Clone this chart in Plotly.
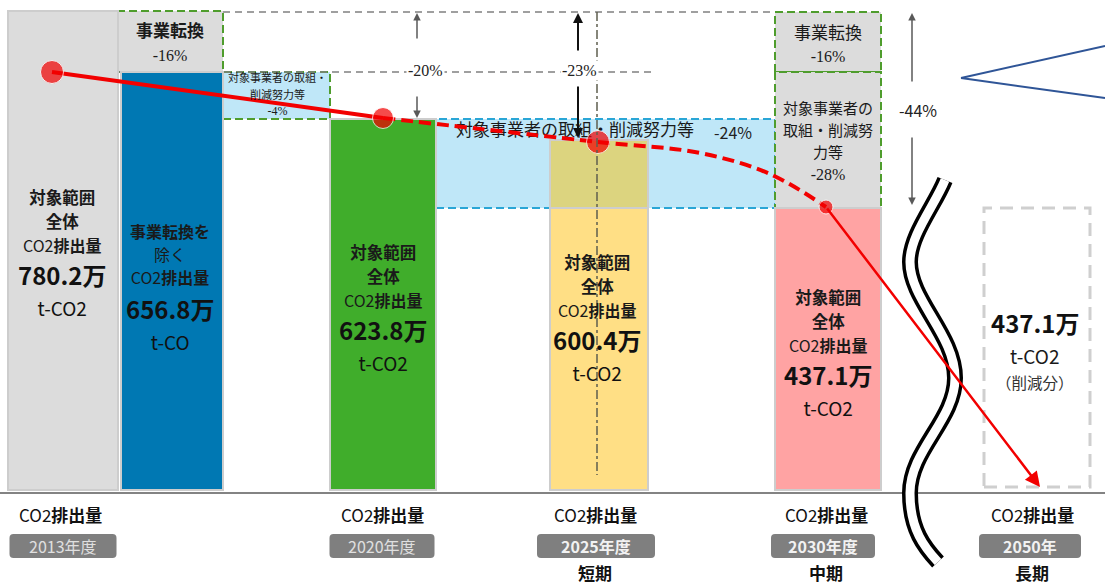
import plotly.graph_objects as go

# ---------------- data (the chart is schematic, not to scale) ----------------
periods       = ["2013年度", "2020年度", "2025年度", "2030年度", "2050年"]
horizons      = ["", "", "短期", "中期", "長期"]
value_labels  = ["780.2万", "623.8万", "600.4万", "437.1万", "437.1万"]
excl_label    = "656.8万"
total_heights = [479, 371, 350, 282]      # drawn heights of the 2013 / 2020 / 2025 / 2030 total bars
excl_height   = 418                       # drawn height of the 2013 bar excluding business conversion
trend_values  = [418, 372, 348, 283, 3]   # red trajectory at 2013, 2020, 2025, 2030, 2050
curve_values  = [337, 316]                # dashed trajectory read between 2025 and 2030
conv_pct      = "-16%"
small_pct     = "-4%"
band_pct      = "-24%"
effort_pct    = "-28%"
cut_pcts      = ["-20%", "-23%", "-44%"]

# ---------------- layout geometry (pixel-like units) ----------------
TOP = 490                       # y value at the top edge; y = TOP - pixel row
TOTAL_X = [63, 383, 599, 828]
TOTAL_W = [110, 106, 98, 106]
EXCL_X, EXCL_W = 172, 102
BOX2050 = (984, 1090)
TREND_X = [52, 383, 598, 826, 1040]
CURVE_X = [700, 770]
CAT_X = [60, 382, 595, 826, 1032]
TAG_X = [63, 382, 596, 823, 1030]
TAG_W = [107, 105, 118, 104, 102]

JP = "Noto Sans CJK JP"
SERIF = "Liberation Serif"
RED = "#f20000"
GREEN_D = "#4f9d2d"
BLUE_D = "#2aa6d6"
LGRAY = "#dcdcdc"
LBLUE = "#bfe7f8"

def py(p):
    return TOP - p

def left(i):
    return TOTAL_X[i] - TOTAL_W[i] / 2

def right(i):
    return TOTAL_X[i] + TOTAL_W[i] / 2

fig = go.Figure()

# ---------------- bars ----------------
def bar(x, h, w, color, base=0):
    fig.add_trace(go.Bar(x=[x], y=[h], base=[base], width=[w],
                         marker=dict(color=color, line=dict(color="#cdcdcd", width=2)),
                         hoverinfo="skip", showlegend=False))

bar(TOTAL_X[0], total_heights[0], TOTAL_W[0], LGRAY)
bar(EXCL_X, excl_height, EXCL_W, "#0078b3")
bar(TOTAL_X[1], total_heights[1], TOTAL_W[1], "#40ad2b")
bar(TOTAL_X[2], total_heights[3], TOTAL_W[2], "#ffdf85")
bar(TOTAL_X[2], total_heights[2] - total_heights[3], TOTAL_W[2], "#dcd47f", base=total_heights[3])
bar(TOTAL_X[3], total_heights[3], TOTAL_W[3], "#ffa3a3")

# band text placed under the red trajectory
fig.add_trace(go.Scatter(x=[575], y=[py(132)], mode="text", text=["対象事業者の取組・削減努力等"],
                         textfont=dict(family=JP, size=17, color="#1a1a1a"),
                         hoverinfo="skip", showlegend=False))

# ---------------- red trajectory ----------------
fig.add_trace(go.Scatter(x=TREND_X[0:2], y=trend_values[0:2], mode="lines",
                         line=dict(color=RED, width=4), hoverinfo="skip", showlegend=False))
fig.add_trace(go.Scatter(x=[TREND_X[1], TREND_X[2]] + CURVE_X + [TREND_X[3]],
                         y=[trend_values[1], trend_values[2]] + curve_values + [trend_values[3]],
                         mode="lines", line=dict(color=RED, width=4, dash="12px,6px", shape="spline"),
                         hoverinfo="skip", showlegend=False))
fig.add_trace(go.Scatter(x=TREND_X[0:4], y=trend_values[0:4], mode="markers",
                         marker=dict(color=RED, size=[23, 21, 23, 14]),
                         hoverinfo="skip", showlegend=False))

# ---------------- shapes ----------------
shapes = []
def rect(x0, x1, y0, y1, fill, line, dash, width=2, layer="below"):
    shapes.append(dict(type="rect", x0=x0, x1=x1, y0=y0, y1=y1, fillcolor=fill,
                       line=dict(color=line, width=width, dash=dash), layer=layer))

def hline(x0, x1, y, color, width, dash, layer="below"):
    shapes.append(dict(type="line", x0=x0, x1=x1, y0=y, y1=y,
                       line=dict(color=color, width=width, dash=dash), layer=layer))

def round_rect(x0, x1, y0, y1, r, fill):
    p = ("M {a},{y0} L {b},{y0} Q {x1},{y0} {x1},{c} L {x1},{d} Q {x1},{y1} {b},{y1} "
         "L {a},{y1} Q {x0},{y1} {x0},{d} L {x0},{c} Q {x0},{y0} {a},{y0} Z").format(
        a=x0 + r, b=x1 - r, c=y0 + r, d=y1 - r, x0=x0, x1=x1, y0=y0, y1=y1)
    shapes.append(dict(type="path", path=p, fillcolor=fill, line=dict(width=0), layer="below"))

# boxes on the 2013 side
rect(right(0), EXCL_X + EXCL_W / 2, excl_height, total_heights[0], LGRAY, GREEN_D, "8px,4px")
rect(EXCL_X + EXCL_W / 2, left(1), total_heights[1], excl_height, LBLUE, GREEN_D, "8px,4px")
# -24% band
rect(right(1), left(3), total_heights[3], total_heights[1], LBLUE, BLUE_D, "8px,4px")
# 2030 column boxes
rect(left(3), right(3), excl_height, total_heights[0] - 1, LGRAY, GREEN_D, "8px,4px")
rect(left(3), right(3), total_heights[3], excl_height, LGRAY, GREEN_D, "8px,4px")
# 2050 reduction box
rect(BOX2050[0], BOX2050[1], 3, total_heights[3], "rgba(0,0,0,0)", "#cfcfcf", "13px,8px", width=3)

# reference dashed lines
hline(EXCL_X + EXCL_W / 2, left(3), total_heights[0] - 1, "#808080", 1.5, "7px,5px")
hline(left(0), 655, excl_height, "#808080", 1.5, "7px,5px")
shapes.append(dict(type="line", x0=597, x1=597, y0=total_heights[0] - 1, y1=py(475),
                   line=dict(color="#5f5f4f", width=1.5, dash="dashdot"), layer="above"))
# baseline
hline(0, 1105, py(493), "#5a5a5a", 1.5, "solid", layer="above")

# blue callout pointer
for yy in (46, 98):
    shapes.append(dict(type="line", x0=961, y0=py(78), x1=1105, y1=py(yy),
                       line=dict(color="#2f5597", width=2), layer="above"))

# wavy break mark
wave_px = [(945, 180), (935, 205), (910, 235), (910, 262), (910, 300), (955, 335), (955, 378),
           (955, 420), (910, 450), (910, 493), (910, 530), (925, 548), (938, 562)]
path = "M {},{}".format(wave_px[0][0], py(wave_px[0][1]))
for k in range(1, len(wave_px), 3):
    (a, b), (c, d), (e, f) = wave_px[k:k + 3]
    path += " C {},{} {},{} {},{}".format(a, py(b), c, py(d), e, py(f))
shapes.append(dict(type="path", path=path, line=dict(color="black", width=16), layer="above"))
shapes.append(dict(type="path", path=path, line=dict(color="white", width=9), layer="above"))

# ---------------- annotations ----------------
ann = []
def txt(x, p, s, size=16, bold=False, color="#1a1a1a", family=JP, bg=None):
    d = dict(x=x, y=py(p), xref="x", yref="y", text=("<b>%s</b>" % s) if bold else s,
             showarrow=False, xanchor="center", yanchor="middle", borderpad=0,
             font=dict(size=size, color=color, family=family))
    if bg:
        d["bgcolor"] = bg
        d["borderpad"] = 1
    ann.append(d)

def block(x, p_first, spacing, lines, color="#1a1a1a"):
    """multi-line block: lines = (text, size, bold, family); spacing in px between line centres"""
    base = spacing / 1.3
    parts = []
    for s, size, bold, fam in lines:
        inner = "<b>%s</b>" % s if bold else s
        parts.append("<span style='font-size:%gpx;font-family:%s'>%s</span>" % (size, fam, inner))
    centre = p_first + (len(lines) - 1) * spacing / 2
    ann.append(dict(x=x, y=py(centre), xref="x", yref="y", text="<br>".join(parts),
                    showarrow=False, xanchor="center", yanchor="middle", borderpad=0,
                    font=dict(size=base, color=color, family=JP)))

def arrow(x, p_head, p_tail, color, width):
    ann.append(dict(x=x, y=py(p_head), ax=x, ay=py(p_tail), xref="x", yref="y",
                    axref="x", ayref="y", showarrow=True, arrowhead=2, arrowsize=1,
                    arrowwidth=width, arrowcolor=color, standoff=0, startstandoff=0, text=""))

CO2 = "CO2<b>排出量</b>"

def bar_text(x, p_top, p_val, value, u):
    block(x, p_top, 24, [("対象範囲", 16.5, True, JP), ("全体", 16.5, True, JP), (CO2, 16, False, JP)])
    block(x, p_val, 31, [(value, 24, True, JP), (u, 19, False, JP)], "#111111")

bar_text(62, 197, 273, value_labels[0], "t-CO2")
bar_text(TOTAL_X[1], 252, 328, value_labels[1], "t-CO2")
bar_text(597, 262, 338, value_labels[2], "t-CO2")
bar_text(TOTAL_X[3], 297, 373, value_labels[3], "t-CO2")

block(170, 231, 23.2, [("事業転換を", 16, True, JP), ("除く", 16, False, JP), (CO2, 16, False, JP)])
block(170, 307, 31, [(excl_label, 24, True, JP), ("t-CO", 19, False, JP)], "#111111")

txt(1035, 322, value_labels[4], 24, True, "#111111")
block(1035, 355, 25, [("t-CO2", 19, False, JP), ("<span style='color:#333333'>（削減分）</span>", 15.5, False, JP)])

# reduction boxes
block(170, 28, 24, [("事業転換", 17, True, JP), (conv_pct, 16, False, SERIF)])
block(277, 77, 16.5, [("対象事業者の取組・", 11, False, JP), ("削減努力等", 11, False, JP),
                      (small_pct, 12, False, SERIF)])
txt(733, 132, band_pct, 16, False, "#222222")
block(828, 30, 23, [("事業転換", 17, False, JP), (conv_pct, 16, False, SERIF)])
block(828, 107, 22, [("対象事業者の", 15, False, JP), ("取組・削減努", 15, False, JP),
                     ("力等", 15, False, JP), (effort_pct, 16, False, SERIF)])

# reduction arrows
arrow(417, 13, 40, "#595959", 1.5)
arrow(417, 118, 95, "#595959", 1.5)
arrow(578, 13, 52, "#111111", 2)
arrow(578, 138, 85, "#111111", 2)
arrow(912, 13, 83, "#595959", 1.5)
arrow(912, 205, 136, "#595959", 1.5)
txt(425, 70, cut_pcts[0], 16, False, "#222222", SERIF, bg="white")
txt(579, 70, cut_pcts[1], 16, False, "#222222", SERIF, bg="white")
txt(918, 110, cut_pcts[2], 16, False, "#222222")

# final arrow of the trajectory to 2050
ann.append(dict(x=TREND_X[4], y=trend_values[4], ax=TREND_X[3], ay=trend_values[3],
                xref="x", yref="y", axref="x", ayref="y", showarrow=True, arrowhead=2,
                arrowsize=1.2, arrowwidth=2.5, arrowcolor=RED, standoff=0, text=""))

# category labels
for i in range(5):
    txt(CAT_X[i], 514, CO2, 17, False, "#111111")
    strong = i >= 2
    round_rect(TAG_X[i] - TAG_W[i] / 2, TAG_X[i] + TAG_W[i] / 2, py(558), py(534), 4, "#7f7f7f")
    txt(TAG_X[i], 546, periods[i], 16, strong, "#f2f2f2" if strong else "#e0e0e0")
    if horizons[i]:
        txt(CAT_X[i], 572, horizons[i], 17, True, "#111111")

fig.update_layout(
    width=1105, height=585, margin=dict(l=0, r=0, t=0, b=0),
    paper_bgcolor="white", plot_bgcolor="white",
    barmode="overlay", bargap=0,
    xaxis=dict(range=[0, 1105], visible=False, fixedrange=True),
    yaxis=dict(range=[py(585), TOP], visible=False, fixedrange=True),
    shapes=shapes, annotations=ann, showlegend=False,
)

fig.write_html("out.html", config={"displayModeBar": False},
               post_script="document.body.style.margin='0px';document.body.style.overflow='hidden';")
